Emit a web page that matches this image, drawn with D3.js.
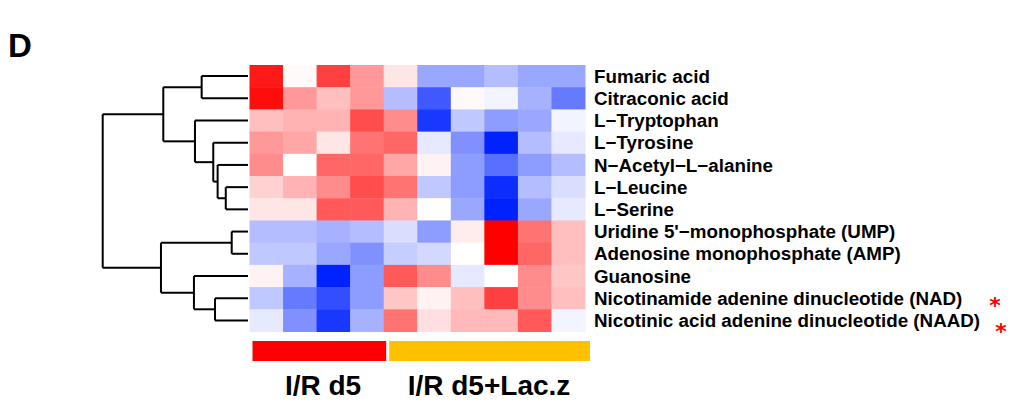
<!DOCTYPE html>
<html>
<head>
<meta charset="utf-8">
<script src="https://cdn.jsdelivr.net/npm/d3@7"></script>
<style>
  body { margin: 0; background: #fff; }
  svg text { font-family: "Liberation Sans", Arial, sans-serif; font-weight: bold; fill: #000; }
</style>
</head>
<body>
<svg id="chart" width="1012" height="409"></svg>
<script>
const rows = [
  "Fumaric acid", "Citraconic acid", "L\u2212Tryptophan", "L\u2212Tyrosine",
  "N\u2212Acetyl\u2212L\u2212alanine", "L\u2212Leucine", "L\u2212Serine",
  "Uridine 5'\u2212monophosphate (UMP)", "Adenosine monophosphate (AMP)", "Guanosine",
  "Nicotinamide adenine dinucleotide (NAD)", "Nicotinic acid adenine dinucleotide (NAAD)"
];
const samples = ["s1", "s2", "s3", "s4", "s5", "s6", "s7", "s8", "s9", "s10"];
const groups = ["I/R d5", "I/R d5+Lac.z"];
const groupOf = [0, 0, 0, 0, 1, 1, 1, 1, 1, 1];
const groupColors = ["#ff0000", "#ffc000"];
const starred = [10, 11];

// z-scores per metabolite (row) across samples
const values = [
  [1.8, 0.05, 1.5, 0.8, 0.2, -0.8, -0.8, -0.6, -0.8, -0.8],
  [1.9, 0.8, 0.5, 0.8, -0.6, -1.5, 0.05, -0.1, -0.7, -1.2],
  [0.5, 0.6, 0.6, 1.4, 0.9, -1.8, -0.5, -0.9, -0.8, -0.1],
  [0.8, 0.7, 0.2, 1.1, 1.2, -0.2, -1.0, -2.0, -0.6, -0.2],
  [0.9, 0.0, 1.2, 1.2, 0.7, 0.1, -0.9, -1.3, -0.9, -0.6],
  [0.35, 0.6, 0.9, 1.4, 1.1, -0.5, -0.9, -1.9, -0.6, -0.3],
  [0.2, 0.2, 1.3, 1.3, 0.6, 0.0, -0.8, -2.0, -0.8, -0.2],
  [-0.6, -0.6, -0.7, -0.6, -0.3, -0.9, 0.15, 2.0, 1.1, 0.5],
  [-0.5, -0.5, -0.8, -1.0, -0.45, -0.35, 0.0, 2.0, 1.2, 0.5],
  [0.1, -0.7, -2.0, -0.9, 1.3, 0.9, -0.2, 0.0, 0.9, 0.45],
  [-0.5, -1.2, -1.6, -0.9, 0.45, 0.1, 0.5, 1.5, 0.9, 0.5],
  [-0.2, -1.0, -1.8, -0.7, 1.1, 0.25, 0.55, 0.55, 1.3, -0.1]
];

// row dendrogram: leaves are row indices, h = merge height
const dendro = { h: 10, children: [
  { h: 5.83, children: [
    { h: 3.19, children: [{ leaf: 0 }, { leaf: 1 }] },
    { h: 3.65, children: [
      { leaf: 2 },
      { h: 2.39, children: [
        { leaf: 3 },
        { h: 2.09, children: [{ leaf: 4 }, { h: 1.53, children: [{ leaf: 5 }, { leaf: 6 }] }] }
      ] }
    ] }
  ] },
  { h: 5.99, children: [
    { h: 1.12, children: [{ leaf: 7 }, { leaf: 8 }] },
    { h: 3.72, children: [
      { leaf: 9 },
      { h: 2.27, children: [{ leaf: 10 }, { leaf: 11 }] }
    ] }
  ] }
] };

const svg = d3.select("#chart");
const hm = { left: 249.5, top: 65, width: 335.5, height: 266.5 };

const x = d3.scaleBand().domain(samples).range([hm.left, hm.left + hm.width]);
const y = d3.scaleBand().domain(d3.range(rows.length)).range([hm.top, hm.top + hm.height]);
const color = d3.scaleLinear().domain([-2, 0, 2]).range(["#0022ff", "#ffffff", "#ff0000"]).clamp(true);
const hx = d3.scaleLinear().domain([0, 10]).range([248, 102.7]);

svg.append("text").attr("x", 8).attr("y", 57).style("font-size", "33px").text("D");

// heatmap cells
const cells = [];
values.forEach((r, i) => r.forEach((v, j) => cells.push({ i, j, v })));
svg.append("g").selectAll("rect").data(cells).join("rect")
  .attr("x", d => x(samples[d.j]))
  .attr("y", d => y(d.i))
  .attr("width", x.bandwidth() + 0.5)
  .attr("height", y.bandwidth() + 0.5)
  .attr("fill", d => color(d.v));

// dendrogram
const root = d3.hierarchy(dendro);
root.eachAfter(n => {
  if (n.data.leaf !== undefined) { n.py = y(n.data.leaf) + y.bandwidth() / 2; n.px = hx(0); }
  else { n.py = d3.mean(n.children, c => c.py); n.px = hx(n.data.h); }
});
const dg = svg.append("g").attr("fill", "none").attr("stroke", "#000").attr("stroke-width", 2);
root.links().forEach(l => {
  dg.append("path").attr("d", `M${l.source.px},${l.target.py}H${l.target.px}`);
});
dg.append("path").attr("d", root.descendants().filter(n => n.children)
  .map(n => `M${n.px},${d3.min(n.children, c => c.py)}V${d3.max(n.children, c => c.py)}`).join(""));

// row labels
svg.append("g").selectAll("text").data(rows).join("text")
  .attr("x", 594)
  .attr("y", (d, i) => y(i) + y.bandwidth() / 2)
  .attr("dy", "0.35em")
  .style("font-size", "18.8px")
  .text(d => d);

// significance stars
svg.append("g").selectAll("text").data(starred).join("text")
  .attr("x", (d, k) => 995 + k * 6)
  .attr("y", (d, k) => y(d) + y.bandwidth() / 2 + 15 + k * 4)
  .attr("text-anchor", "middle")
  .style("font-family", "'DejaVu Sans', sans-serif")
  .style("font-size", "22px")
  .style("fill", "#ff0000")
  .text("*");

// group bars
const gx = groups.map((g, k) => {
  const cols = samples.filter((s, j) => groupOf[j] === k);
  return { g, k, x0: x(cols[0]), x1: x(cols[cols.length - 1]) + x.bandwidth() };
});
svg.append("g").selectAll("rect").data(gx).join("rect")
  .attr("x", d => d.x0 + 3 + d.k * 2.5)
  .attr("y", 341)
  .attr("width", d => d.x1 - d.x0 - 0.5)
  .attr("height", 20)
  .attr("fill", d => groupColors[d.k]);

svg.append("g").selectAll("text").data(gx).join("text")
  .attr("x", (d, k) => k === 0 ? 323 : 489)
  .attr("y", 395)
  .attr("text-anchor", "middle")
  .style("font-size", "28px")
  .text(d => d.g);
</script>
</body>
</html>
